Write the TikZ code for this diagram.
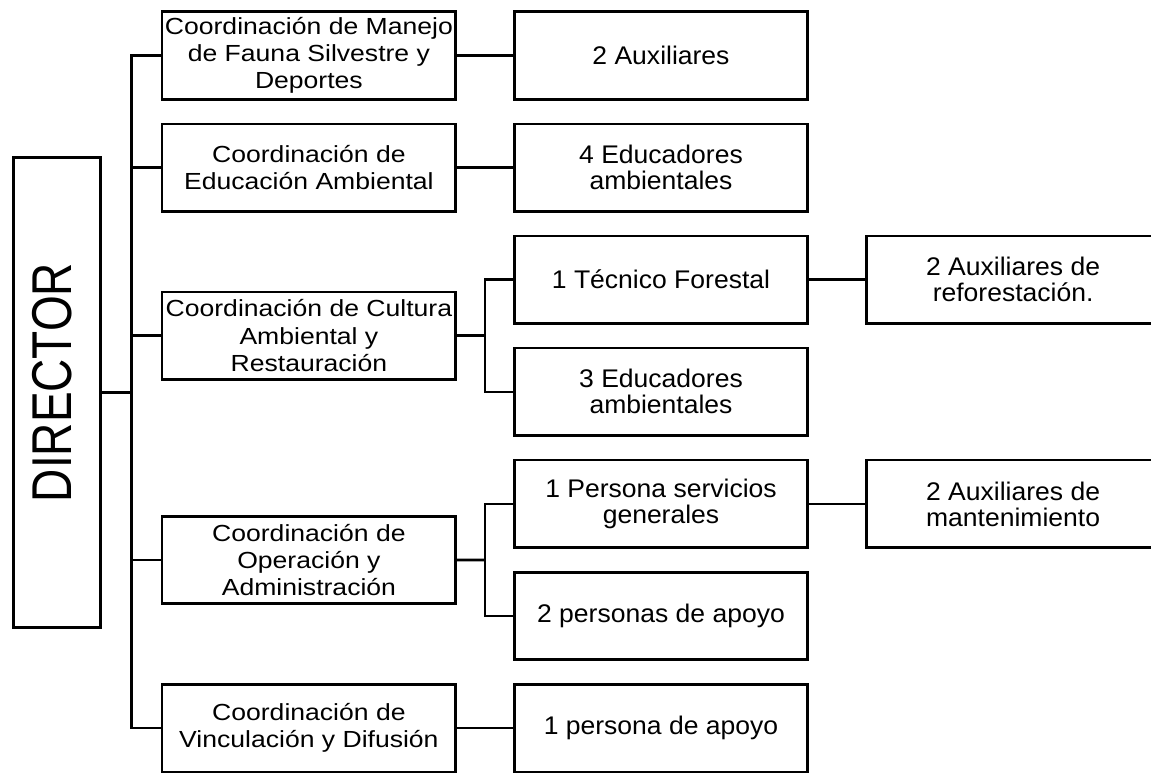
\documentclass[tikz,border=0pt]{standalone}
\usepackage{fontspec}
\setmainfont{Liberation Sans}
\newfontfamily\coordfont{Liberation Sans}[FakeStretch=1.14]
\newfontfamily\stafffont{Liberation Sans}[FakeStretch=1.04]
\usepackage{graphicx}
\usetikzlibrary{positioning,calc}
\tikzset{
  orgbox/.style = {rectangle, draw=black, line width=2.6pt, fill=white,
                   minimum width=293.5pt, minimum height=87.5pt, inner sep=0pt,
                   align=center},
  coord/.style  = {orgbox, font=\coordfont\fontsize{23.3}{27.3}\selectfont},
  staff/.style  = {orgbox, font=\stafffont\fontsize{25.5}{26}\selectfont},
  link/.style   = {line width=2.6pt, black},
}

\begin{document}
\begin{tikzpicture}[x=1pt, y=-1pt, node distance=22pt and 56pt]
  \path[use as bounding box, clip] (0,0) rectangle (1151,772);

  % second level
  \node[staff] (aux2) at (661,55.5) {2 Auxiliares};
  \node[staff, below=of aux2]    (edu4)    {4 Educadores\\ambientales};
  \node[staff, below=of edu4]    (tecfor)  {1 Técnico Forestal};
  \node[staff, below=of tecfor]  (edu3)    {3 Educadores\\ambientales};
  \node[staff, below=of edu3]    (servgen) {1 Persona servicios\\generales};
  \node[staff, below=of servgen] (apoyo2)  {2 personas de apoyo};
  \node[staff, below=of apoyo2]  (apoyo1)  {1 persona de apoyo};

  % third level
  \node[staff, right=of tecfor]  (auxref)  {2 Auxiliares de\\reforestación.};
  \node[staff, right=of servgen] (auxmant) {2 Auxiliares de\\mantenimiento};

  % coordinations
  \coordinate (mcult) at ($(tecfor.west)!0.5!(edu3.west)$);
  \coordinate (moper) at ($(servgen.west)!0.5!(apoyo2.west)$);
  \node[coord, left=of aux2]   (cfauna) {Coordinación de Manejo\\de Fauna Silvestre y\\Deportes};
  \node[coord, left=of edu4]   (cedu)   {Coordinación de\\Educación Ambiental};
  \node[coord, left=of mcult]  (ccult)  {Coordinación de Cultura\\Ambiental y\\Restauración};
  \node[coord, left=of moper]  (coper)  {Coordinación de\\Operación y\\Administración};
  \node[coord, left=of apoyo1] (cvinc)  {Coordinación de\\Vinculación y Difusión};

  % director
  \node[orgbox, minimum width=87.5pt, minimum height=470.5pt] (dir) at (57,392.5) {};
  \node (dirtext) at ([xshift=-5pt, yshift=10pt]dir.center)
       {\rotatebox{90}{\scalebox{1}[1.22]{\fontsize{46}{50}\selectfont DIRECTOR}}};

  \coordinate (trunk) at ($(dir.east)!0.5!(dir.east -| cfauna.west)$);
  \draw[link] (dir.east) -- (trunk);
  \draw[link] (cfauna.west) -| (trunk |- cvinc.west) -- (cvinc.west);
  \foreach \n in {cedu, ccult, coper}
    \draw[link] (trunk |- \n.west) -- (\n.west);

  \foreach \a/\b in {cfauna/aux2, cedu/edu4, cvinc/apoyo1, tecfor/auxref, servgen/auxmant}
    \draw[link] (\a) -- (\b);

  \foreach \c/\t/\b in {ccult/tecfor/edu3, coper/servgen/apoyo2} {
    \coordinate (split) at ($(\c.east)!0.5!(\c.east -| \t.west)$);
    \draw[link] (\c.east) -- (split);
    \draw[link] (\t.west) -| (split) |- (\b.west);
  }
\end{tikzpicture}
\end{document}
